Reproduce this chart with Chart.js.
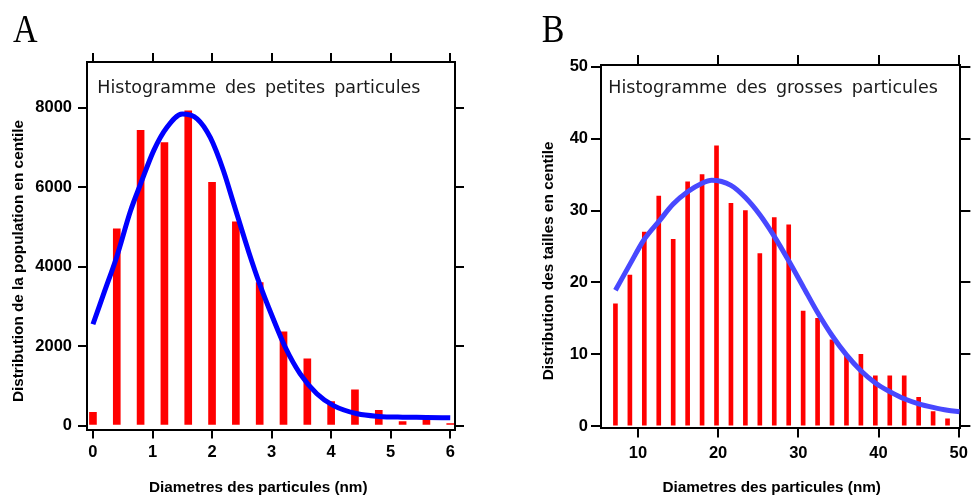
<!DOCTYPE html>
<html><head><meta charset="utf-8">
<script src="https://cdn.jsdelivr.net/npm/chart.js@4.4.1/dist/chart.umd.min.js"></script>
<style>
html,body{margin:0;padding:0;background:#fff;}
#wrap{position:relative;width:974px;height:495px;overflow:hidden;background:#fff;}
canvas{position:absolute;top:0;}
#cA{left:0;} #cB{left:487px;}
</style></head><body>
<div id="wrap"><canvas id="cA" width="487" height="495"></canvas><canvas id="cB" width="487" height="495"></canvas></div>
<script>
// ---------- Panel A : petites particules ----------
const smallDiam   = [0, 0.4, 0.8, 1.2, 1.6, 2.0, 2.4, 2.8, 3.2, 3.6, 4.0, 4.4, 4.8, 5.2, 5.6, 6.0];
const smallCounts = [335, 4950, 7430, 7120, 7920, 6120, 5130, 3600, 2360, 1680, 600, 900, 380, 100, 230, 50];
const smallFitX   = [0, 0.2, 0.4, 0.63, 0.8, 1.02, 1.24, 1.5, 1.75, 1.97, 2.19, 2.36, 2.62, 2.8, 3.01, 3.23, 3.48, 3.76, 4.04, 4.44, 4.8, 5.2, 5.6, 6.0];
const smallFitY   = [2550, 3400, 4250, 5400, 6080, 6920, 7500, 7840, 7720, 7250, 6420, 5600, 4350, 3560, 2750, 1970, 1300, 800, 500, 295, 230, 210, 205, 195];
const smallXTicks = [0, 1, 2, 3, 4, 5, 6];
const smallYTicks = [0, 2000, 4000, 6000, 8000];

// ---------- Panel B : grosses particules ----------
const bigDiam   = [7.2, 9.0, 10.8, 12.6, 14.4, 16.2, 18.0, 19.8, 21.6, 23.4, 25.2, 27.0, 28.8, 30.6, 32.4, 34.2, 36.0, 37.8, 39.6, 41.4, 43.2, 45.0, 46.8, 48.6];
const bigCounts = [17, 21, 27, 32, 26, 34, 35, 39, 31, 30, 24, 29, 28, 16, 15, 12, 10, 10, 7, 7, 7, 4, 2, 1];
const bigFitX   = [7.2, 9.0, 10.8, 12.7, 14.4, 16.2, 18.0, 19.2, 21.6, 23.4, 25.2, 27.0, 28.8, 30.6, 32.4, 34.2, 36.0, 37.8, 39.6, 41.4, 43.2, 45.0, 46.8, 48.6, 50.1];
const bigFitY   = [18.9, 22.5, 26.0, 28.6, 30.9, 32.6, 33.8, 34.2, 33.5, 31.8, 29.4, 26.4, 23.0, 19.4, 15.8, 12.6, 9.9, 7.7, 6.0, 4.8, 3.8, 3.1, 2.6, 2.2, 2.0];
const bigXTicks = [10, 20, 30, 40, 50];
const bigYTicks = [0, 10, 20, 30, 40, 50];

const TICK_FONT = {family: "'Liberation Sans', Arial, sans-serif", size: 16.5, weight: 'bold'};
const W = 487, H = 495;

function drawSpaced(ctx, words, x, y, gap) {
  for (const w of words) { ctx.fillText(w, x, y); x += ctx.measureText(w).width + gap; }
}

function textPlugin(t) {
  return {
    id: 'txt',
    afterDraw(chart) {
      const ctx = chart.ctx;
      ctx.save();
      ctx.fillStyle = '#000';
      ctx.textBaseline = 'alphabetic';
      ctx.textAlign = 'left';
      ctx.save();
      ctx.translate(t.letterX, t.letterY);
      ctx.scale(0.83, 1);
      ctx.font = "41px 'Liberation Serif', 'Times New Roman', serif";
      ctx.fillText(t.letter, 0, 0);
      ctx.restore();
      ctx.fillStyle = '#1a1a1a';
      ctx.font = "17.5px 'DejaVu Sans', Verdana, sans-serif";
      drawSpaced(ctx, t.title.split(' '), t.titleX, t.titleY, 9);
      ctx.fillStyle = '#000';
      ctx.font = "bold 15.3px 'Liberation Sans', Arial, sans-serif";
      ctx.textAlign = 'center';
      ctx.fillText(t.xTitle, t.xTitleX, t.xTitleY);
      ctx.save();
      ctx.translate(t.yTitleX, t.yTitleY);
      ctx.rotate(-Math.PI / 2);
      ctx.fillText(t.yTitle, 0, 0);
      ctx.restore();
      ctx.restore();
    }
  };
}

function makeChart(id, c) {
  const setTicks = vals => (s => { s.ticks = vals.map(v => ({value: v})); });
  const gridOpt = tl => ({display: true, drawOnChartArea: false, drawTicks: true, tickLength: tl, lineWidth: 2, color: '#000', offset: false});
  const border = {display: true, color: '#000', width: 2};
  const plain = v => String(v);
  return new Chart(document.getElementById(id), {
    type: 'bar',
    data: {
      datasets: [
        {type: 'line', data: c.fitX.map((x, i) => ({x: x, y: c.fitY[i]})), borderColor: c.lineColor,
         borderWidth: 5, pointRadius: 0, tension: 0.4, cubicInterpolationMode: 'monotone', fill: false, order: 0},
        {type: 'bar', data: c.barX.map((x, i) => ({x: x, y: c.barY[i]})), backgroundColor: '#ff0000',
         borderWidth: 0, barThickness: c.barW, order: 1}
      ]
    },
    options: {
      responsive: false, animation: false, events: [],
      layout: {padding: 0, autoPadding: false},
      plugins: {legend: {display: false}, tooltip: {enabled: false}, title: {display: false}},
      scales: {
        x: {type: 'linear', position: 'bottom', min: c.xMin, max: c.xMax, offset: false,
            afterBuildTicks: setTicks(c.xTicks), afterFit: s => { s.height = H - c.box.bottom; },
            ticks: {font: TICK_FONT, color: '#000', padding: c.xPad, maxRotation: 0, autoSkip: false, callback: plain},
            grid: gridOpt(c.tl), border: border},
        x2: {type: 'linear', position: 'top', min: c.xMin, max: c.xMax, offset: false,
            afterBuildTicks: setTicks(c.xTicks), afterFit: s => { s.height = c.box.top; },
            ticks: {display: false}, grid: gridOpt(c.tl), border: border},
        y: {type: 'linear', position: 'left', min: c.yMin, max: c.yMax, beginAtZero: false,
            afterBuildTicks: setTicks(c.yTicks), afterFit: s => { s.width = c.box.left; },
            ticks: {font: TICK_FONT, color: '#000', padding: c.yPad, callback: plain},
            grid: gridOpt(c.tl), border: border},
        y2: {type: 'linear', position: 'right', min: c.yMin, max: c.yMax,
            afterBuildTicks: setTicks(c.yTicks), afterFit: s => { s.width = W - c.box.right; },
            ticks: {display: false}, grid: gridOpt(c.tl), border: border}
      }
    },
    plugins: [textPlugin(c.text)]
  });
}

makeChart('cA', {
  barX: smallDiam, barY: smallCounts, fitX: smallFitX, fitY: smallFitY,
  xTicks: smallXTicks, yTicks: smallYTicks,
  xMin: -0.1, xMax: 6.08, yMin: -100, yMax: 9150,
  box: {left: 87, right: 455, top: 62, bottom: 429.5},
  tl: 9, xPad: 4, yPad: 6, barW: 7, lineColor: '#0000ff',
  text: {letter: 'A', letterX: 13, letterY: 41.7,
         title: 'Histogramme des petites particules', titleX: 97.3, titleY: 93.3,
         xTitle: 'Diametres des particules (nm)', xTitleX: 258.3, xTitleY: 492,
         yTitle: 'Distribution de la population en centile', yTitleX: 22.7, yTitleY: 261}
});

makeChart('cB', {
  barX: bigDiam, barY: bigCounts, fitX: bigFitX, fitY: bigFitY,
  xTicks: bigXTicks, yTicks: bigYTicks,
  xMin: 5.4, xMax: 50.2, yMin: -0.2, yMax: 50.25,
  box: {left: 114, right: 478, top: 65, bottom: 427.5},
  tl: 10, xPad: 6, yPad: 3, barW: 4, lineColor: '#4848ff',
  text: {letter: 'B', letterX: 54.7, letterY: 41.7,
         title: 'Histogramme des grosses particules', titleX: 121.3, titleY: 92.7,
         xTitle: 'Diametres des particules (nm)', xTitleX: 284.7, xTitleY: 492,
         yTitle: 'Distribution des tailles en centile', yTitleX: 65.5, yTitleY: 260.8}
});
</script>
</body></html>
